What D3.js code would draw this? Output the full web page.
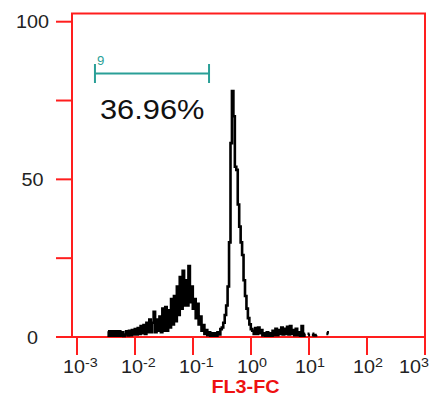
<!DOCTYPE html>
<html><head><meta charset="utf-8">
<script src="https://cdn.jsdelivr.net/npm/d3@7"></script>
<style>body{margin:0;background:#fff} svg{display:block}</style>
</head><body>
<svg id="c" width="432" height="398"></svg>
<script>
// ---- data ----
const yTicks = [0, 25, 50, 75, 100];
const yTickLabels = ["0", "", "50", "", "100"];
const xDecades = [-3, -2, -1, 0, 1, 2, 3];
const xTitle = "FL3-FC";
const channelStartLog = -2.466;   // log10 of first channel
const channelStepLog = 0.025;     // channel width in decades
const counts = [
  1.8,0.4,1.8,0.4,1.8,0.4,1.8,0.4,1.8,0.4,1.5,
  0.3,0.8,1.8,0.5,2,0.6,2.2,0.8,2.5,
  0.8,2.8,1,3.5,1.2,3.8,1,4.5,1.5,5.5,
  1.5,4.5,8,1.5,5.5,2,6.5,1.5,9,2,
  9.5,2,8.5,3,12,4,13,5,16,7,
  19,9,21,10,18,10,22.5,11,16,9,
  12,6,10.5,4,6.5,2,3.8,1,2.2,0.6,
  1.5,0.4,1.2,0.4,1.2,0.4,1.5,0.8,2.5,3,
  4.5,7,10,16,30,61.5,78,70,54,53,
  42,35,30,26,18,13,9,6,4,2.5,
  2,1,2.8,1,3,1.2,2.2,0.5,1.2,0.4,
  1.5,0.4,1.2,0.4,2,0.6,2.6,0.6,2.2,1,
  3,0.8,2.6,1,3.2,0.8,3.5,1,2.2,0.6,
  2.6,0.6,1.5,0.4,3.5,0.4,1,0,0.6,1,
  0,1,0.6,0.5,0.6,0,0,0,0,0,
  0,1.5,1
];
const markerRange = [0.00204, 0.189];
const markerLabel = "9";
const markerPercent = "36.96%";

// ---- drawing ----
const svg = d3.select("#c");
const red = "#ff1e1e";
const teal = "#2a9f97";
const sx = 1.1;
const font = "Liberation Sans, Arial, sans-serif";

const x = d3.scaleLog().domain([1e-3, 1e3]).range([77, 425]);
const y = d3.scaleLinear().domain([0, 100]).range([337, 21.7]);

const frameLeft = 72, frameTop = 13.5, frameRight = x(1e3), frameBottom = y(0);

// frame
svg.append("path")
  .attr("d", `M${frameLeft},${frameBottom}V${frameTop}H${frameRight}V${frameBottom}`)
  .attr("fill", "none").attr("stroke", red).attr("stroke-width", 2);
svg.append("line").attr("x1", 56).attr("x2", frameRight)
  .attr("y1", frameBottom).attr("y2", frameBottom)
  .attr("stroke", red).attr("stroke-width", 2);

// y ticks
yTicks.forEach((t, i) => {
  svg.append("line").attr("x1", 56).attr("x2", frameLeft)
    .attr("y1", y(t)).attr("y2", y(t)).attr("stroke", red).attr("stroke-width", 2);
  if (yTickLabels[i]) {
    svg.append("text").text(yTickLabels[i])
      .attr("transform", `translate(32.5,${y(t) + 6.5}) scale(${sx},1)`)
      .attr("text-anchor", "middle")
      .attr("font-family", font)
      .attr("font-size", 18).attr("fill", "#222");
  }
});

// x ticks
xDecades.forEach(d => {
  const tx = x(Math.pow(10, d));
  svg.append("line").attr("x1", tx).attr("x2", tx)
    .attr("y1", frameBottom).attr("y2", 355).attr("stroke", red).attr("stroke-width", 2);
  const t = svg.append("text")
    .attr("font-family", font)
    .attr("font-size", 18).attr("fill", "#222");
  t.append("tspan").text("10");
  t.append("tspan").text(String(d)).attr("font-size", 13).attr("dy", -6);
  const w = t.node().getComputedTextLength() * sx;
  const lx = Math.min(tx - 14, 429 - w);
  t.attr("transform", `translate(${lx},373) scale(${sx},1)`);
});

// x title
svg.append("text").text(xTitle)
  .attr("transform", `translate(245.5,393) scale(${sx},1)`)
  .attr("text-anchor", "middle")
  .attr("font-family", font)
  .attr("font-weight", "bold").attr("font-size", 18).attr("fill", "#ee1111");

// histogram
const data = counts.map((v, i) => ({ x: Math.pow(10, channelStartLog + i * channelStepLog), v }));
const line = d3.line()
  .defined(d => d.v > 0)
  .x(d => x(d.x)).y(d => y(d.v))
  .curve(d3.curveStep);
svg.append("path").datum(data).attr("d", line)
  .attr("fill", "none").attr("stroke", "#000").attr("stroke-width", 2.6);

// marker
const my = 73.5;
const mx0 = x(markerRange[0]), mx1 = x(markerRange[1]);
const mg = svg.append("g").attr("stroke", teal).attr("stroke-width", 2);
mg.append("line").attr("x1", mx0).attr("x2", mx1).attr("y1", my).attr("y2", my);
mg.append("line").attr("x1", mx0).attr("x2", mx0).attr("y1", 64).attr("y2", 83);
mg.append("line").attr("x1", mx1).attr("x2", mx1).attr("y1", 64).attr("y2", 83);
svg.append("text").text(markerLabel)
  .attr("transform", `translate(${mx0 + 2},65) scale(${sx},1)`)
  .attr("font-family", font)
  .attr("font-size", 12).attr("fill", teal);
svg.append("text").text(markerPercent)
  .attr("transform", `translate(100,118.5) scale(${sx},1)`)
  .attr("font-family", font)
  .attr("font-size", 28).attr("fill", "#111");
</script>
</body></html>
